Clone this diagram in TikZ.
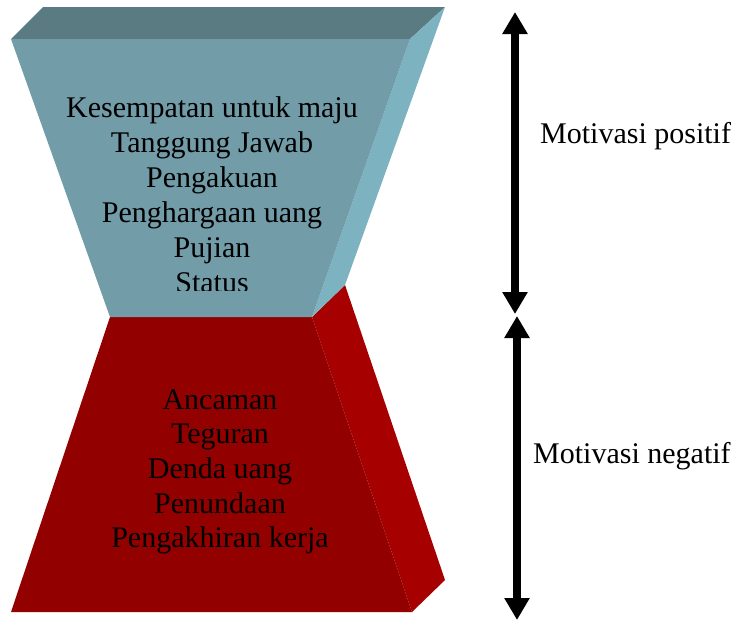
\documentclass[tikz,border=0pt]{standalone}
\usepackage{fontspec}
\setmainfont{Liberation Serif}
\usetikzlibrary{arrows.meta}

\definecolor{tealfront}{HTML}{729CA8}
\definecolor{tealtop}{HTML}{5B7B82}
\definecolor{tealside}{HTML}{7DB3C0}
\definecolor{redfront}{HTML}{930000}
\definecolor{redside}{HTML}{A60000}

\tikzset{
  item/.style={anchor=base, inner sep=0pt, font=\fontsize{30}{35}\selectfont},
  sidelabel/.style={anchor=base west, inner sep=0pt, font=\fontsize{30}{35}\selectfont},
  bigarrow/.style={line width=7.5pt,
    {Triangle[length=22pt,width=24pt]}-{Triangle[length=22pt,width=24pt]}},
}

\begin{document}
\begin{tikzpicture}[x=1pt,y=-1pt]
  \useasboundingbox (0,0) rectangle (739,622);

  % lower block (negative motivation)
  \fill[redside]  (312,317) -- (345,285) -- (445,580) -- (412,612) -- cycle;
  \fill[redfront] (110,317) -- (312,317) -- (412,612) -- (11,612) -- cycle;

  % upper block (positive motivation)
  \fill[tealtop]   (11,39) -- (43,7) -- (445,7) -- (410,39) -- cycle;
  \fill[tealside]  (410,39) -- (445,7) -- (345,285) -- (312,317) -- cycle;
  \fill[tealfront] (11,39) -- (410,39) -- (312,317) -- (110,317) -- cycle;

  % upper list (last line is cut by the text frame)
  \begin{scope}
    \clip (0,0) rectangle (450,290.5);
    \node[item] (p1) at (212,117) {Kesempatan untuk maju};
    \node[item] (p2) at (212,152) {Tanggung Jawab};
    \node[item] (p3) at (212,187) {Pengakuan};
    \node[item] (p4) at (212,222) {Penghargaan uang};
    \node[item] (p5) at (212,257) {Pujian};
    \node[item] (p6) at (212,292) {Status};
  \end{scope}

  % lower list
  \node[item] (n1) at (220,409) {Ancaman};
  \node[item] (n2) at (220,443) {Teguran};
  \node[item] (n3) at (220,478) {Denda uang};
  \node[item] (n4) at (220,513) {Penundaan};
  \node[item] (n5) at (220,547) {Pengakhiran kerja};

  % double-headed arrows on the right
  \coordinate (a1) at (515,12);
  \coordinate (a2) at (515,314);
  \coordinate (b1) at (517,316);
  \coordinate (b2) at (517,620);
  \draw[bigarrow] (a1) -- (a2);
  \draw[bigarrow] (b1) -- (b2);

  \node[sidelabel] (pos) at (540,143) {Motivasi positif};
  \node[sidelabel] (neg) at (533,463) {Motivasi negatif};
\end{tikzpicture}
\end{document}
